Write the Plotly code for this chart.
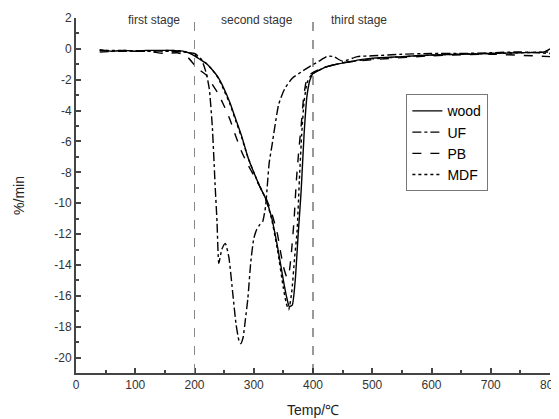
import plotly.graph_objects as go

# ---- data ----
wood_t = [40, 60, 80, 100, 120, 140, 160, 180, 190, 200, 210, 220, 230, 240, 250, 260, 270, 280, 290, 300,
          310, 320, 330, 340, 350, 355, 360, 365, 370, 375, 380, 385, 390, 395, 400, 410, 420, 440, 460,
          480, 500, 550, 600, 650, 700, 750, 790, 800]
wood_v = [-0.05, -0.15, -0.1, -0.15, -0.1, -0.1, -0.1, -0.15, -0.25, -0.45, -0.7, -0.95, -1.35, -1.85,
          -2.6, -3.5, -4.6, -5.7, -7.0, -8.0, -8.9, -9.7, -10.9, -12.8, -15.0, -16.0, -16.7, -16.6, -15.0,
          -12.0, -9.2, -5.5, -3.0, -2.0, -1.6, -1.4, -1.2, -1.0, -0.85, -0.7, -0.6, -0.5, -0.4, -0.35, -0.3,
          -0.25, -0.2, 0.0]

uf_t = [40, 100, 150, 180, 200, 210, 215, 220, 225, 230, 235, 238, 241, 246, 252, 258, 265, 270, 275,
        278, 282, 286, 290, 295, 300, 305, 310, 315, 320, 323, 326, 331, 342, 352, 365, 380, 396, 410, 424,
        435, 450, 475, 500, 550, 600, 650, 700, 750, 800]
uf_v = [-0.1, -0.15, -0.15, -0.2, -0.3, -0.6, -1.0, -1.6, -2.6, -5.0, -9.0, -11.2, -13.9, -13.0, -12.6,
        -13.5, -16.0, -17.8, -18.9, -19.1, -18.7, -17.5, -16.2, -13.8, -12.3, -11.7, -11.4, -11.2, -10.2,
        -8.8, -7.4, -6.2, -3.6, -2.6, -1.9, -1.5, -1.1, -0.8, -0.48, -0.5, -0.8, -0.5, -0.45, -0.35, -0.3,
        -0.3, -0.25, -0.2, -0.3]

pb_t = [40, 80, 120, 150, 170, 180, 190, 200, 210, 220, 230, 240, 250, 260, 270, 280, 290, 300, 310, 320,
        330, 340, 345, 350, 356, 360, 364, 368, 372, 376, 380, 384, 388, 392, 399, 420, 450, 500, 600, 700,
        800]
pb_v = [-0.2, -0.15, -0.15, -0.3, -0.25, -0.35, -0.6, -1.05, -1.4, -1.7, -2.3, -2.9, -3.7, -4.6, -5.7,
        -6.7, -7.5, -8.2, -8.9, -9.6, -10.6, -12.0, -13.1, -14.1, -14.8, -14.4, -13.0, -11.1, -8.5, -6.6,
        -5.0, -3.2, -2.2, -1.8, -1.55, -1.2, -0.9, -0.7, -0.45, -0.35, -0.5]

mdf_t = [40, 80, 120, 160, 180, 190, 200, 210, 220, 230, 240, 250, 260, 270, 280, 290, 300, 310, 320, 330,
         340, 350, 355, 359, 364, 369, 373, 377, 381, 385, 390, 395, 400, 420, 450, 500, 600, 700, 800]
mdf_v = [-0.1, -0.1, -0.15, -0.1, -0.15, -0.25, -0.4, -0.65, -0.95, -1.35, -1.9, -2.7, -3.6, -4.7, -5.8,
         -7.0, -8.0, -8.9, -9.7, -11.0, -13.0, -15.5, -16.5, -16.9, -15.8, -13.5, -11.9, -8.5, -5.5, -3.4,
         -2.2, -1.8, -1.6, -1.2, -0.9, -0.65, -0.4, -0.3, -0.2]

stage_x = [200, 400]
stage_labels = ["first stage", "second stage", "third stage"]
stage_label_x = [132, 306, 477]

x_ticks = [0, 100, 200, 300, 400, 500, 600, 700, 800]
y_ticks = [2, 0, -2, -4, -6, -8, -10, -12, -14, -16, -18, -20]
y_ticktext = [str(v) for v in y_ticks]

FONT = "Liberation Sans, Arial, sans-serif"

fig = go.Figure()
series = [
    ("wood", wood_t, wood_v, "solid"),
    ("UF", uf_t, uf_v, "dashdot"),
    ("PB", pb_t, pb_v, "dash"),
    ("MDF", mdf_t, mdf_v, "dot"),
]
for name, t, v, dash in series:
    fig.add_trace(go.Scatter(x=t, y=v, name=name, mode="lines",
                             line=dict(color="black", width=1.4, dash=dash, shape="spline", smoothing=0.5)))

for i, sx in enumerate(stage_x):
    fig.add_shape(type="line", xref="x", yref="paper", x0=sx, x1=sx, y0=0, y1=1,
                  line=dict(color="#888888" if i == 0 else "#333333", width=1, dash="dash"))

for lbl, lx in zip(stage_labels, stage_label_x):
    fig.add_annotation(x=lx, y=1.9, xref="x", yref="y", text=lbl, showarrow=False,
                       font=dict(family=FONT, size=12, color="#333333"))

# page body has an 8px default margin, so the figure is sized/offset to compensate
fig.update_layout(
    width=551, height=411,
    margin=dict(l=68, r=9, t=10, b=46, autoexpand=False),
    paper_bgcolor="white", plot_bgcolor="white",
    font=dict(family=FONT, size=12, color="#333333"),
    showlegend=True,
    legend=dict(x=0.697, y=0.785, xanchor="left", yanchor="top",
                bgcolor="white", bordercolor="#777777", borderwidth=1,
                font=dict(family=FONT, size=14, color="black"),
                tracegroupgap=0, itemwidth=30),
)
fig.update_xaxes(range=[0, 800], tickvals=x_ticks, ticks="inside", ticklen=5, tickwidth=1.5,
                 tickcolor="#444444", showline=True, linecolor="#444444", linewidth=2, showgrid=False,
                 zeroline=False, mirror=False, automargin=False, ticklabeloverflow="allow",
                 minor=dict(ticks="inside", dtick=50, tick0=0, ticklen=3, tickcolor="#444444", showgrid=False),
                 title=dict(text="Temp/℃", font=dict(family=FONT, size=14, color="#222222"), standoff=14),
                 tickfont=dict(family=FONT, size=12, color="#333333"))
fig.update_yaxes(range=[-21, 2], tickmode="array", tickvals=y_ticks, ticktext=y_ticktext, ticks="inside",
                 ticklen=5, tickwidth=1.5, tickcolor="#444444", showline=True, linecolor="#444444",
                 linewidth=2, showgrid=False, zeroline=False, mirror=False, automargin=False,
                 minor=dict(ticks="inside", tickmode="linear", dtick=1, tick0=0, ticklen=3,
                            tickcolor="#444444", showgrid=False),
                 title=dict(text="%/min", font=dict(family=FONT, size=14, color="#222222"), standoff=26),
                 tickfont=dict(family=FONT, size=12, color="#333333"))

fig.write_html("out.html")
